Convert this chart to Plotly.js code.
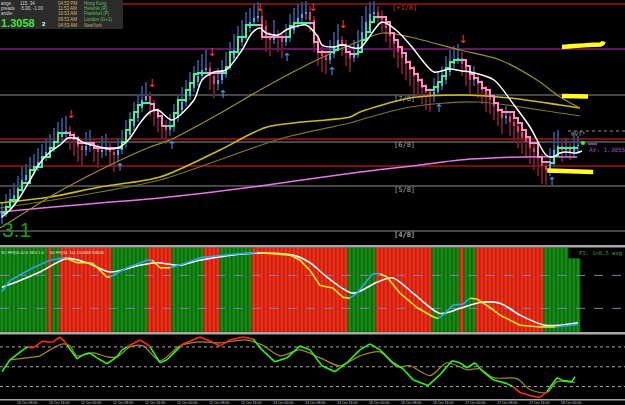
<!DOCTYPE html>
<html><head><meta charset="utf-8">
<script src="https://cdn.plot.ly/plotly-3.0.1.min.js"></script>
<style>html,body{margin:0;padding:0;background:#000;overflow:hidden}#chart{width:625px;height:405px}</style>
</head><body><div id="chart"></div>
<script>
// ---------- DATA (price in pips, 1 pip = 0.0001) ----------
const firstOpen = 12984;
const closes = [12990,12996,13002,13007,13014,13022,13027,13032,13036,13040,
 13046,13050,13055,13060,13065,13068,13071,13066,13062,13056,
 13052,13056,13058,13054,13050,13052,13055,13050,13047,13052,
 13059,13067,13076,13084,13094,13102,13106,13098,13090,13084,
 13077,13072,13075,13084,13092,13100,13106,13114,13120,13126,
 13132,13134,13126,13118,13122,13128,13136,13144,13152,13160,
 13166,13174,13180,13184,13186,13176,13166,13162,13168,13164,
 13160,13164,13172,13178,13184,13188,13190,13182,13164,13152,
 13146,13142,13148,13156,13162,13158,13150,13144,13148,13158,
 13170,13180,13188,13190,13186,13182,13174,13166,13158,13150,
 13144,13138,13132,13126,13120,13114,13110,13106,13110,13116,
 13122,13130,13138,13142,13144,13138,13130,13122,13124,13118,
 13112,13106,13102,13096,13090,13084,13086,13080,13076,13070,
 13064,13060,13054,13050,13044,13036,13032,13040,13052,13056,
 13052,13054,13050,13056,13057];
const highs = [13000,13008,13013,13019,13026,13035,13038,13045,13048,13054,
 13058,13063,13068,13074,13080,13084,13086,13076,13070,13066,
 13062,13070,13072,13063,13058,13066,13068,13060,13054,13064,
 13072,13082,13090,13100,13108,13116,13120,13110,13102,13094,
 13088,13082,13088,13098,13106,13115,13122,13130,13136,13142,
 13148,13152,13140,13130,13134,13142,13150,13160,13168,13176,
 13182,13190,13194,13198,13200,13192,13182,13170,13182,13172,
 13168,13178,13188,13194,13198,13200,13201,13196,13186,13168,
 13156,13150,13162,13170,13178,13166,13162,13154,13162,13172,
 13186,13196,13200,13201,13196,13192,13186,13178,13170,13162,
 13154,13148,13142,13136,13130,13124,13118,13114,13124,13130,
 13136,13146,13152,13156,13158,13150,13142,13134,13136,13128,
 13122,13116,13110,13106,13100,13094,13096,13090,13084,13080,
 13074,13068,13064,13058,13054,13048,13040,13054,13070,13072,
 13062,13064,13060,13068,13066];
const lows = [12978,12985,12992,12998,13003,13010,13018,13023,13027,13031,
 13036,13041,13046,13050,13056,13061,13064,13052,13046,13040,
 13036,13046,13050,13040,13034,13044,13046,13036,13030,13040,
 13048,13054,13062,13071,13080,13090,13098,13086,13076,13070,
 13062,13058,13066,13070,13080,13088,13096,13102,13110,13116,
 13122,13128,13112,13104,13112,13118,13124,13132,13140,13148,
 13156,13162,13170,13176,13180,13162,13150,13146,13158,13150,
 13144,13156,13160,13168,13174,13180,13182,13170,13150,13136,
 13130,13128,13138,13144,13152,13146,13136,13130,13140,13144,
 13154,13166,13176,13184,13176,13170,13160,13152,13144,13134,
 13128,13122,13116,13108,13104,13098,13092,13090,13100,13106,
 13112,13118,13126,13134,13138,13126,13116,13108,13116,13104,
 13098,13090,13088,13082,13076,13068,13078,13066,13060,13054,
 13048,13044,13038,13032,13026,13018,13016,13026,13036,13046,
 13040,13046,13042,13044,13048];
const stepLine = [12989,12995,13002,13002,13012,13019,13019,13032,13035,13035,
 13045,13045,13054,13060,13069,13069,13069,13067,13064,13059,
 13059,13059,13059,13054,13054,13054,13054,13054,13054,13054,
 13060,13072,13082,13090,13097,13099,13099,13098,13092,13086,
 13076,13076,13076,13089,13102,13102,13112,13119,13128,13129,
 13129,13129,13129,13129,13129,13129,13135,13150,13150,13165,
 13165,13177,13177,13177,13177,13165,13165,13165,13165,13165,
 13165,13165,13176,13179,13179,13179,13179,13179,13160,13150,
 13150,13150,13150,13152,13157,13157,13150,13148,13148,13150,
 13162,13170,13180,13185,13185,13185,13180,13169,13162,13155,
 13149,13140,13134,13128,13122,13116,13112,13112,13115,13120,
 13126,13134,13140,13142,13142,13142,13136,13128,13124,13120,
 13114,13112,13106,13099,13092,13090,13090,13090,13084,13079,
 13072,13065,13059,13059,13045,13040,13040,13039,13046,13054,
 13054,13054,13054,13054,13054];
const trendFlips = [16,29,37,41,51,55,64,71,77,82,85,88,94,107,115,137];

const whiteX = [0,2,4.5,7,9.5,12,14.5,16.5,19,20,24.5,27,29.5,32,34.5,37,39,42.5,48,50,53,56,60,62.5,64.5,66,69,71,73,76,79,80,83,85,87,89.5,95,98.5,102.5,105,108,112,115,117,123,128,132,136,137.5,139.5,141,143.5,145];
const whiteY = [12985,12992,13005,13022,13039,13050,13057,13064,13063,13060,13055,13053,13055,13064,13079,13090,13092,13082,13102,13122,13130,13132,13152,13169,13174,13169,13167,13172,13175,13177,13165,13157,13155,13157,13155,13154,13180,13172,13155,13142,13130,13133,13131,13130,13122,13097,13075,13047,13045,13049,13050,13049,13051];
const fastX = [-0.5,2.75,12.75,24.5,37,42,53.75,64.5,72.75,80.25,87,95.25,102,114.5,124.5,133.75,139.5,144.5];
const fastY = [12974,12982,13007,13032,13055,13062,13087,13112,13130,13145,13157,13169,13165,13152,13142,13122,13105,13094];
const midMaX = [-0.5,12,24.5,39.5,54.5,66.25,87,89.5,102,114.5,127,139.5,144.5];
const midMaY = [12999,13005,13015,13025,13052,13075,13085,13090,13104,13107,13104,13097,13094];
const slowX = [-0.5,12.75,24.5,39.5,70.25,87,89.5,102,118.75,139.5,144.5];
const slowY = [12994,13002,13010,13022,13064,13079,13082,13095,13100,13089,13086];
const magX = [-0.5,12.75,24.5,39.5,64.5,89.5,104.5,114.5,129.5,143.75];
const magY = [12990,12995,12999,13004,13016,13030,13037,13042,13045,13045];

const downArrowX = [17.25,37.5,52.5,64.5,77.75,85.25,115.25];
const downArrowY = [13087,13118,13149,13194,13194,13177,13162];
const upArrowX = [29.5,42.5,55.25,71.25,82.5,109.25,137.5];
const upArrowY = [13034,13056,13107,13144,13130,13093,13020];

const levelValues = [13198,13153,13107,13063,13060,13036,13016,12971];
const levelKinds  = ['red','mag','gray','red','gray','red','gray','gray'];
const levelLabels = [['[+1/8]',13194],['[7/8]',13103],['[6/8]',13057],['[5/8]',13012],['[4/8]',12967]];

// middle panel
const regimeRuns = [[12,'G'],[1,'R'],[2,'G'],[13,'R'],[9,'G'],[6,'R'],[8,'G'],[4,'R'],[8,'G'],[24,'R'],[7,'G'],[14,'R'],[7,'G'],[1,'R'],[3,'G'],[17,'R'],[9,'G']];
const histRuns = [[142,100],[3,87]];
const oscX = [0,2,7.75,12,15.75,18.75,22,22.75,26.25,27,31.25,36.25,37.5,39.5,42,46.25,49.5,57.75,63.75,72,74.5,77,79.5,82.75,85.25,87,88.75,91.25,92.75,94.5,96.25,99.5,103.75,107.75,109,110.25,112.75,115.25,117,118.75,122,124.5,129.5,134.5,138.25,144];
const oscY = [48,61,76,85,88,82,82,81,65,65,76,85,85,76,76,82,88,92,94,91,85,73,55,52,41,40,46,61,69,69,65,46,29,18,16,20,32,33,40,39,29,20,8,6,6,9];
const midWhiteX = [0,4.5,9.5,16.25,21.25,27,34.5,38.75,44.5,49.5,62,72.75,77,81.25,87.75,93.75,97.75,102.75,109.5,114.5,119.5,124.5,129.5,135.75,144];
const midWhiteY = [53,61,71,87,82,71,79,82,79,85,93,91,82,65,46,59,64,46,22,28,35,34,20,8,11];
const midLevels = [67,28];

// bottom panel
const botX = [0,2,5.25,6.5,7.75,10.25,11.5,12.75,14.5,15.75,16.25,18.75,20.25,22,23.75,26.25,28.75,30,31.25,34.5,36.5,37,39.5,41.25,44.5,45.25,49.5,52,54.5,57,60.25,62.75,65,68.25,71.25,74.5,77,80,83.25,86.5,89.5,92,94.5,97.75,100.25,102.75,106.5,109.5,112.5,114.5,116.25,118.25,120.25,122.75,126.25,127.75,129.5,132,134.5,136.25,138.75,140.25,142.5,143.25];
const botY = [42.5,60.5,75.5,80,78.5,89,87.5,87.5,95,87.5,83,62,68,71,63.5,54.5,65,75.5,80,90.5,83,80,56,60.5,80,84.5,95,89,81.5,90.5,95,92,75.5,57.5,63.5,81.5,75.5,51.5,42.5,57.5,75.5,84.5,75.5,56,47,30.5,21.5,38,59,56,48.5,56,42.5,30.5,24.5,20,11,6.5,3.5,12.5,33.5,29,27.5,35];
const botSigX = [2,6.25,9.5,12,15.25,17,18.75,22.75,26.25,28.75,32,35.25,39.5,44.5,49.5,54.5,60.75,65,69.5,74.5,79.5,84.5,89.5,94.5,98.75,102,107,111.25,116.25,119.5,122.75,128.75,132,136.25,138.75,143.25];
const botSigY = [60.5,63.5,66.5,75.5,84.5,81.5,66.5,71,65,65,80,81.5,59,81.5,87.5,86,90.5,83,66.5,75.5,63.5,51.5,66.5,72.5,50,51.5,36.5,56,45.5,47,33.5,32,15.5,11,27.5,26];
const botLevels = [80,50,20];

const dateLabels = ["10 Oct 08:00","10 Oct 16:00","11 Oct 00:00","11 Oct 08:00","11 Oct 16:00","12 Oct 00:00","12 Oct 08:00","12 Oct 16:00","13 Oct 00:00","13 Oct 08:00","13 Oct 16:00","16 Oct 00:00","16 Oct 08:00","16 Oct 16:00","17 Oct 00:00","17 Oct 08:00","17 Oct 16:00","18 Oct 00:00"];

// ---------- BUILD ----------
const W = 625, H = 405;
const px = x => x / W;
const py = y => 1 - y / H;
const X0 = -0.5, X1 = 155.75;

const idx = closes.map((_, i) => i);
const opens = closes.map((c, i) => i === 0 ? firstOpen : closes[i - 1]);
const isUp = closes.map((c, i) => c >= opens[i]);

const traces = [];
traces.push({type:'bar', x: idx, base: lows, y: highs.map((h,i)=>h-lows[i]), width: 0.5,
  marker:{color: isUp.map(u=>u?'#27497e':'#6e1830'), line:{width:0}}, yaxis:'y', hoverinfo:'skip'});
traces.push({type:'bar', x: idx, base: opens.map((o,i)=>Math.min(o,closes[i])),
  y: opens.map((o,i)=>Math.max(Math.abs(closes[i]-o),1.5)), width: 0.62,
  marker:{color: isUp.map(u=>u?'#3cb6f6':'#ff2d68'), line:{width:0}}, yaxis:'y', hoverinfo:'skip'});

function line(x,y,color,width,yaxis,shape){
  return {type:'scatter',mode:'lines',x,y,yaxis,line:{color,width,shape:shape||'linear',smoothing:0.8},hoverinfo:'skip'};
}
traces.push(line(magX,magY,'#e27ae2',1.5,'y','spline'));
traces.push(line(slowX,slowY,'#7d7420',1.2,'y','spline'));
traces.push(line(midMaX,midMaY,'#c9bc1c',1.6,'y','spline'));
traces.push(line(fastX,fastY,'#9a9020',1.2,'y','spline'));

const stepG={x:[],y:[]}, stepP={x:[],y:[]};
{
  let up=true, start=0; const ends=[...trendFlips, closes.length-1];
  for(const end of ends){
    const tgt = up?stepG:stepP;
    for(let i=start;i<=end;i++){ tgt.x.push(i); tgt.y.push(stepLine[i]); }
    tgt.x.push(null); tgt.y.push(null);
    start=end; up=!up;
  }
}
traces.push(line(stepG.x,stepG.y,'#3cf59a',2,'y','hv'));
traces.push(line(stepP.x,stepP.y,'#ff8cc8',2,'y','hv'));
traces.push(line(whiteX,whiteY,'#ffffff',1.5,'y','spline'));

traces.push({type:'scatter',mode:'text',x:downArrowX,y:downArrowY,text:downArrowX.map(()=>'↓'),
  textfont:{color:'#ff3a22',size:11,family:'DejaVu Sans'},yaxis:'y',hoverinfo:'skip',cliponaxis:false});
traces.push({type:'scatter',mode:'text',x:upArrowX,y:upArrowY,text:upArrowX.map(()=>'↑'),
  textfont:{color:'#3aa6f2',size:11,family:'DejaVu Sans'},yaxis:'y',hoverinfo:'skip'});

const regime=[]; regimeRuns.forEach(([n,c])=>{for(let k=0;k<n;k++) regime.push(c);});
const histH=[]; histRuns.forEach(([n,v])=>{for(let k=0;k<n;k++) histH.push(v);});
traces.push({type:'bar',x:idx,y:histH,base:0,width:1,yaxis:'y2',hoverinfo:'skip',
  marker:{color:regime.map(r=>r==='G'?'#138d13':'#f22e16'),
          line:{width:0.9,color:regime.map(r=>r==='G'?'#0b560b':'#a51d0c')}}});
midLevels.forEach(v=>traces.push({type:'scatter',mode:'lines',x:[X0,X1],y:[v,v],yaxis:'y2',
  line:{color:'#8a7cb0',width:1,dash:'dash'},hoverinfo:'skip'}));

function segs(xs, ys, colorFn){
  const out={}; let prev=null;
  for(let i=0;i<xs.length-1;i++){
    const c=colorFn(ys[i],ys[i+1],prev); prev=c;
    if(!out[c]) out[c]={x:[],y:[]};
    out[c].x.push(xs[i],xs[i+1],null); out[c].y.push(ys[i],ys[i+1],null);
  }
  return out;
}
traces.push(line(midWhiteX,midWhiteY,'#ffffff',1.6,'y2','spline'));
const oscSeg = segs(oscX,oscY,(a,b,p)=> b>a?'#2fa2f0':(b<a?'#f2e21e':(p||'#2fa2f0')));
Object.entries(oscSeg).forEach(([c,d])=>traces.push(line(d.x,d.y,c,1.6,'y2')));

traces.push(line(botSigX,botSigY,'#a08c1e',1.2,'y3','spline'));
const botSeg = segs(botX,botY,(a,b)=> ((a>=78&&b>=78)||(a<=21&&b<=21))?'#ff2a1a':'#2ef02a');
Object.entries(botSeg).forEach(([c,d])=>traces.push(line(d.x,d.y,c,1.6,'y3')));

// ---------- SHAPES ----------
const shapes=[];
const lvlStyle={red:{c:'#a81414',w:1.6},mag:{c:'#c52ac5',w:1.2},gray:{c:'#8e8e8e',w:1.2}};
levelValues.forEach((v,i)=>{const s=lvlStyle[levelKinds[i]];
  shapes.push({type:'line',xref:'paper',yref:'y',x0:0,x1:1,y0:v,y1:v,line:{color:s.c,width:s.w},layer:'below'});});
botLevels.forEach(v=>shapes.push({type:'line',xref:'paper',yref:'y3',x0:0,x1:1,y0:v,y1:v,line:{color:'#a8a8a8',width:1,dash:'dot'},layer:'below'}));
[[245,247.5],[332,334.5],[399,400.5]].forEach(([a,b])=>shapes.push({type:'rect',xref:'paper',yref:'paper',x0:0,x1:1,y0:py(b),y1:py(a),fillcolor:'#a8a8a8',line:{width:0},layer:'above'}));
shapes.push({type:'rect',xref:'paper',yref:'paper',x0:0,x1:px(123),y0:py(29),y1:1,fillcolor:'#2b2b2b',line:{width:0},layer:'above'});
shapes.push({type:'line',xref:'paper',yref:'paper',x0:px(568),x1:1,y0:py(131),y1:py(131),line:{color:'#8c8c8c',width:1,dash:'dot'}});
shapes.push({type:'line',xref:'paper',yref:'paper',x0:px(588),x1:px(597),y0:py(144),y1:py(144),line:{color:'#7a3a9a',width:2}});
shapes.push({type:'circle',xref:'paper',yref:'paper',x0:px(581),x1:px(585),y0:py(145),y1:py(141),fillcolor:'#30ff30',line:{width:0}});
const hl={color:'#ffff1e',width:4.5};
shapes.push({type:'path',xref:'x',yref:'y',path:'M140,13155 Q146,13157 149.7,13157.5 Q150.3,13158.5 150.4,13160.5',line:hl});
shapes.push({type:'path',xref:'x',yref:'y',path:'M140,13106 L146.5,13105.5',line:hl});
shapes.push({type:'path',xref:'x',yref:'y',path:'M136.3,13031.5 L147.8,13030',line:hl});

// ---------- ANNOTATIONS ----------
const anns=[];
function ann(x,y,text,color,size,opt){
  anns.push(Object.assign({xref:'paper',yref:'paper',x:px(x),y:py(y),text,showarrow:false,
    xanchor:'left',yanchor:'middle',borderpad:0,font:{color,size,family:'Liberation Sans'}},opt||{}));
}
levelLabels.forEach(([t,v],i)=>anns.push({xref:'x',yref:'y',x:100.5,y:v,text:t,showarrow:false,borderpad:0,
  font:{color:i===0?'#d42a2a':(i===4?'#d8d8d8':'#a6a6a6'),size:7,family:'DejaVu Sans Mono'}}));
ann(1,229,'3.1','#1c9c1c',21);
ann(0,3,'ange','#d6d6d6',4.5); ann(19,3,'115. 34','#d6d6d6',4.5);
ann(0,8.5,'preads','#d6d6d6',4.5); ann(19,8.5,'-5.00, -1.00','#d6d6d6',4.5);
ann(0,14,'andle:','#d6d6d6',4.5);
ann(0,23,'<b>1.3058</b>','#3ee63e',11); ann(41,24,'<b>2</b>','#ffffff',6);
const times=['04:53 PM','11:53 AM','10:53 AM','09:53 AM','04:53 AM'];
const cities=['Hong Kong','Helsinki (R)','Frankfurt (P)','London (G+1)','NewYork'];
times.forEach((t,i)=>ann(57,3+5.5*i,t,'#d9b463',4.5));
cities.forEach((t,i)=>ann(83,3+5.5*i,t,i===4?'#c8a870':'#5cc45c',4.5));
ann(570,134,'PVT*','#a0a0a0',6,{font:{color:'#a0a0a0',size:6,family:'DejaVu Sans Mono'}});
ann(588,149,'AV: 1.3055','#a450c8',6,{font:{color:'#a450c8',size:6,family:'DejaVu Sans Mono'}});
ann(578,253,'P1: 1<0.5 avg','#30a030',5.5,{font:{color:'#2fa82f',size:5.5,family:'DejaVu Sans Mono'}});
ann(0,252,'SC FFI(55 42.6 38.6 1.0','#e8e8e8',4);
ann(49,252,'60 FFI(14, 10) 13.0068 9.8045','#e8e8e8',4);
dateLabels.forEach((t,i)=>ann(16+32*i,402.8,t,'#c8c8c8',3.6));

const layout={
  width:W,height:H,autosize:false,margin:{l:0,r:0,t:0,b:0,pad:0},
  paper_bgcolor:'#000',plot_bgcolor:'#000',showlegend:false,barmode:'overlay',bargap:0,
  hovermode:false,
  xaxis:{range:[X0,X1],visible:false,fixedrange:true,anchor:'y'},
  yaxis:{domain:[py(245),1],range:[12957,13202],visible:false,fixedrange:true,anchor:'x'},
  yaxis2:{domain:[py(332),py(247.5)],range:[0,100],visible:false,fixedrange:true,anchor:'x'},
  yaxis3:{domain:[py(399),py(334.5)],range:[1.25,98.75],visible:false,fixedrange:true,anchor:'x'},
  shapes,annotations:anns
};
Plotly.newPlot('chart',traces,layout,{staticPlot:true,displayModeBar:false});
</script>
</body></html>
